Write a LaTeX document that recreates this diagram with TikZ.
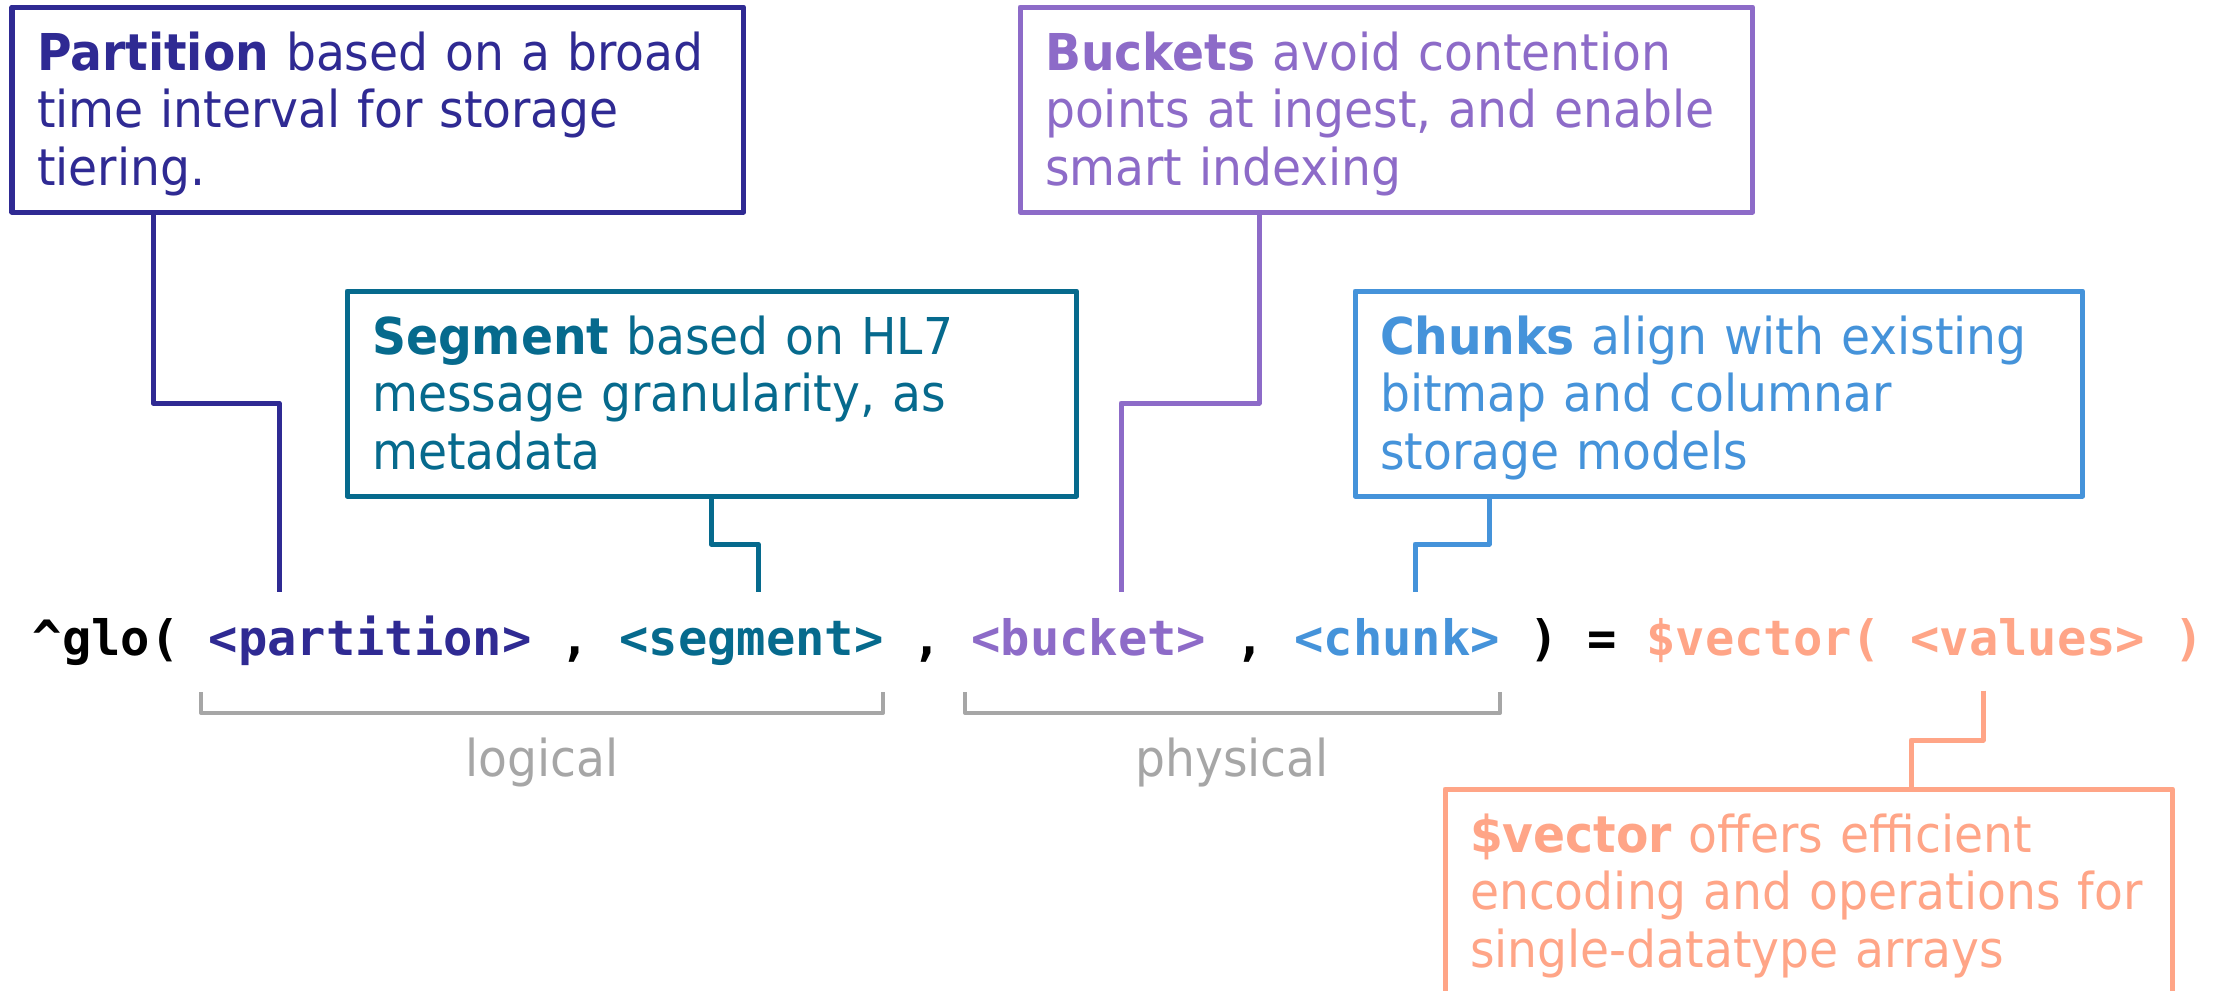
\documentclass[tikz,border=0pt]{standalone}
\usepackage{fontspec}
\setmainfont{DejaVu Sans}[FakeStretch=0.93]
\setmonofont{DejaVu Sans Mono}
\usetikzlibrary{calc}

\definecolor{cPart}{HTML}{2F2A93}
\definecolor{cSeg}{HTML}{066A8D}
\definecolor{cBuck}{HTML}{8D6BC8}
\definecolor{cChunk}{HTML}{4593DA}
\definecolor{cVec}{HTML}{FFA587}
\definecolor{cGray}{HTML}{A6A6A6}

\newcommand\myNoteFont{\fontsize{14.44pt}{16.35pt}\selectfont}
\newcommand\myCodeFont{\fontsize{13.86pt}{16pt}\selectfont\ttfamily\bfseries}
% struts that fix the first baseline and the last depth of a note
\newcommand\topstrut{\rule{0pt}{0.48cm}}
\newcommand\botstrut{\rule[-0.12cm]{0pt}{0.12cm}}

\tikzset{
  note/.style={draw=#1, text=#1, line width=0.05cm, line join=round,
    anchor=north west, outer sep=0pt, inner xsep=0.25cm, inner ysep=0pt,
    align=left, font=\myNoteFont},
  link/.style={draw=#1, line width=0.05cm, line join=round},
  tok/.style={text=#1, anchor=base west, inner xsep=0pt, inner ysep=0.25cm,
    text height=0.37cm, text depth=0.10cm, font=\myCodeFont},
  brace/.style={draw=cGray, line width=0.04cm, line join=round},
  tag/.style={text=cGray, font=\myNoteFont, anchor=base, inner sep=0pt}
}

\begin{document}
\begin{tikzpicture}[x=0.01cm, y=-0.01cm]
\clip (0,0) rectangle (2221,990);
\fill[white] (0,0) rectangle (2221,990);

% explanatory notes
\node[note=cPart, text width=6.81cm, minimum height=2.05cm] (pbox) at (12,7)
  {\topstrut\textbf{Partition} based on a broad\\time interval for storage\\tiering.\botstrut};
\node[note=cSeg, text width=6.79cm, minimum height=2.05cm] (sbox) at (347,291)
  {\topstrut\textbf{Segment} based on HL7\\message granularity, as\\metadata\botstrut};
\node[note=cBuck, text width=6.82cm, minimum height=2.05cm] (bbox) at (1020,7)
  {\topstrut\textbf{Buckets} avoid contention\\points at ingest, and enable\\smart indexing\botstrut};
\node[note=cChunk, text width=6.77cm, minimum height=2.05cm] (cbox) at (1355,291)
  {\topstrut\textbf{Chunks} align with existing\\bitmap and columnar\\storage models\botstrut};
\node[note=cVec, text width=6.77cm, minimum height=2.05cm] (vbox) at (1445,789)
  {\topstrut\textbf{\$vector} offers efficient\\encoding and operations for\\single-datatype arrays\botstrut};

% the global reference, one monospaced token per node
\node[tok=black]  (tGlo)   at (32,655)          {\textasciicircum glo(};
\node[tok=cPart]  (tPart)  at (32+29.34*6,655)  {<partition>};
\node[tok=black]  (tCom1)  at (32+29.34*18,655) {,};
\node[tok=cSeg]   (tSeg)   at (32+29.34*20,655) {<segment>};
\node[tok=black]  (tCom2)  at (32+29.34*30,655) {,};
\node[tok=cBuck]  (tBuck)  at (32+29.34*32,655) {<bucket>};
\node[tok=black]  (tCom3)  at (32+29.34*41,655) {,};
\node[tok=cChunk] (tChunk) at (32+29.34*43,655) {<chunk>};
\node[tok=black]  (tClose) at (32+29.34*51,655) {)};
\node[tok=black]  (tEq)    at (32+29.34*53,655) {=};
\node[tok=cVec]   (tFunc)  at (32+29.34*55,655) {\$vector(};
\node[tok=cVec]   (tVal)   at (32+29.34*64,655) {<values>};
\node[tok=cVec]   (tEnd)   at (32+29.34*73,655) {)};

% bend points of the leader lines
\coordinate (pFoot) at (153,0);   \coordinate (pBend) at (279,403);
\coordinate (sFoot) at (711,0);   \coordinate (sBend) at (758,544);
\coordinate (bFoot) at (1259,0);  \coordinate (bBend) at (1121,403);
\coordinate (cFoot) at (1489,0);  \coordinate (cBend) at (1415,544);
\coordinate (vFoot) at (1983,0);  \coordinate (vBend) at (1911,740);

\draw[link=cPart]  (pbox.south -| pFoot) |- (pBend) -- (pBend |- tPart.north);
\draw[link=cSeg]   (sbox.south -| sFoot) |- (sBend) -- (sBend |- tSeg.north);
\draw[link=cBuck]  (bbox.south -| bFoot) |- (bBend) -- (bBend |- tBuck.north);
\draw[link=cChunk] (cbox.south -| cFoot) |- (cBend) -- (cBend |- tChunk.north);
\draw[link=cVec]   (tVal.south -| vFoot) |- (vBend) -- (vBend |- vbox.north);

% grouping brackets
\draw[brace] (201,692) |- (883,713) -- (883,692);
\draw[brace] (965,692) |- (1500,713) -- (1500,692);
\node[tag] (lLogical)  at (542,776)  {logical};
\node[tag] (lPhysical) at (1232,776) {physical};
\end{tikzpicture}
\end{document}
